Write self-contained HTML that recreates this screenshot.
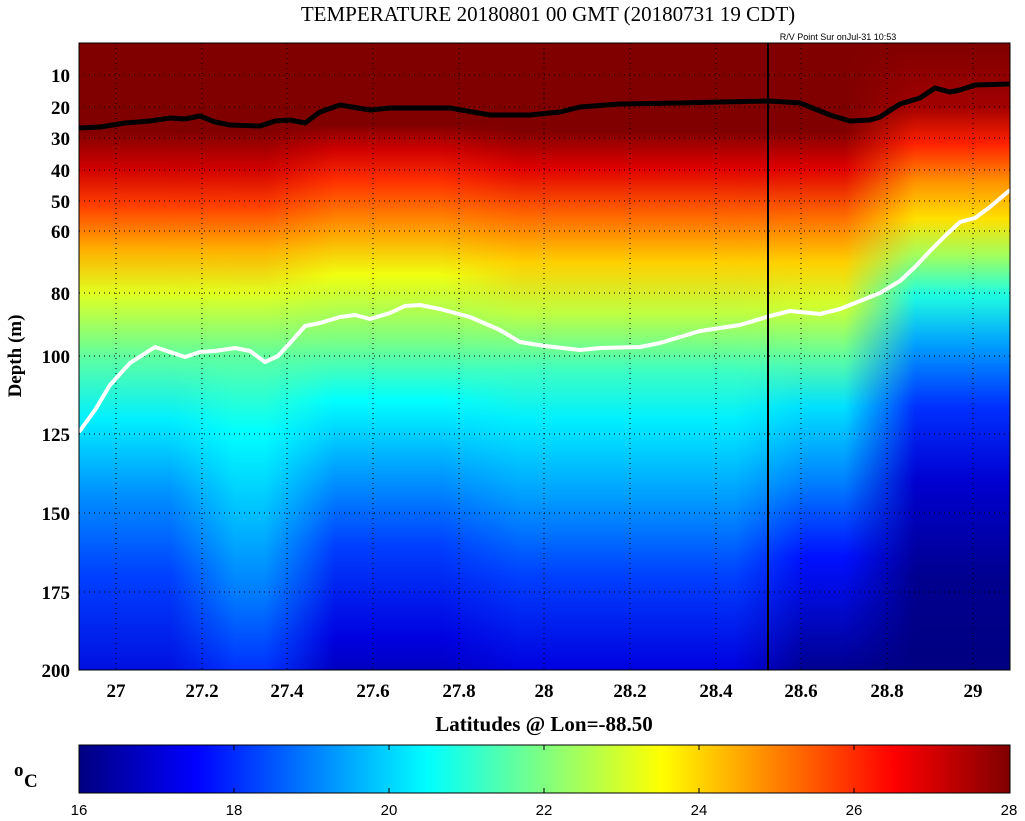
<!DOCTYPE html>
<html><head><meta charset="utf-8"><style>
body{margin:0;background:#fff;}
svg{display:block;}
.t{font-family:"Liberation Serif",serif;font-weight:bold;font-size:19px;fill:#000;}
</style></head><body>
<svg width="1025" height="821" viewBox="0 0 1025 821" xmlns="http://www.w3.org/2000/svg">
<defs>
<clipPath id="pc"><rect x="79" y="43" width="931" height="627"/></clipPath>
<linearGradient id="mB" gradientUnits="userSpaceOnUse" x1="170" y1="0" x2="235" y2="0"><stop offset="0" stop-color="#fff" stop-opacity="0"/><stop offset="1" stop-color="#fff" stop-opacity="1"/></linearGradient>
<linearGradient id="mC" gradientUnits="userSpaceOnUse" x1="265" y1="0" x2="335" y2="0"><stop offset="0" stop-color="#fff" stop-opacity="0"/><stop offset="1" stop-color="#fff" stop-opacity="1"/></linearGradient>
<linearGradient id="mD" gradientUnits="userSpaceOnUse" x1="440" y1="0" x2="520" y2="0"><stop offset="0" stop-color="#fff" stop-opacity="0"/><stop offset="1" stop-color="#fff" stop-opacity="1"/></linearGradient>
<linearGradient id="mE" gradientUnits="userSpaceOnUse" x1="735" y1="0" x2="805" y2="0"><stop offset="0" stop-color="#fff" stop-opacity="0"/><stop offset="1" stop-color="#fff" stop-opacity="1"/></linearGradient>
<linearGradient id="mF" gradientUnits="userSpaceOnUse" x1="845" y1="0" x2="915" y2="0"><stop offset="0" stop-color="#fff" stop-opacity="0"/><stop offset="1" stop-color="#fff" stop-opacity="1"/></linearGradient>
<mask id="kB" maskUnits="userSpaceOnUse" x="0" y="0" width="1025" height="821"><rect x="0" y="0" width="1025" height="821" fill="url(#mB)"/></mask>
<mask id="kC" maskUnits="userSpaceOnUse" x="0" y="0" width="1025" height="821"><rect x="0" y="0" width="1025" height="821" fill="url(#mC)"/></mask>
<mask id="kD" maskUnits="userSpaceOnUse" x="0" y="0" width="1025" height="821"><rect x="0" y="0" width="1025" height="821" fill="url(#mD)"/></mask>
<mask id="kE" maskUnits="userSpaceOnUse" x="0" y="0" width="1025" height="821"><rect x="0" y="0" width="1025" height="821" fill="url(#mE)"/></mask>
<mask id="kF" maskUnits="userSpaceOnUse" x="0" y="0" width="1025" height="821"><rect x="0" y="0" width="1025" height="821" fill="url(#mF)"/></mask>
<linearGradient id="gA" gradientUnits="userSpaceOnUse" x1="0" y1="43" x2="0" y2="670">
<stop offset="0" stop-color="#800000"/><stop offset="0.14" stop-color="#800000"/><stop offset="0.2" stop-color="#d00000"/><stop offset="0.26" stop-color="#ff4000"/><stop offset="0.33" stop-color="#ffb000"/><stop offset="0.4" stop-color="#e0ff20"/><stop offset="0.5" stop-color="#60ffa0"/><stop offset="0.6" stop-color="#00f0ff"/><stop offset="0.72" stop-color="#0090ff"/><stop offset="0.85" stop-color="#0040ff"/><stop offset="1" stop-color="#0010e0"/></linearGradient>
<linearGradient id="gB" gradientUnits="userSpaceOnUse" x1="0" y1="43" x2="0" y2="670">
<stop offset="0" stop-color="#800000"/><stop offset="0.14" stop-color="#800000"/><stop offset="0.2" stop-color="#d00000"/><stop offset="0.26" stop-color="#ff4000"/><stop offset="0.33" stop-color="#ffb000"/><stop offset="0.4" stop-color="#e0ff20"/><stop offset="0.5" stop-color="#60ffa0"/><stop offset="0.62" stop-color="#00ffff"/><stop offset="0.75" stop-color="#00c0ff"/><stop offset="0.9" stop-color="#0070ff"/><stop offset="1" stop-color="#0030ff"/></linearGradient>
<linearGradient id="gC" gradientUnits="userSpaceOnUse" x1="0" y1="43" x2="0" y2="670">
<stop offset="0" stop-color="#800000"/><stop offset="0.13" stop-color="#800000"/><stop offset="0.17" stop-color="#d00000"/><stop offset="0.22" stop-color="#ff3000"/><stop offset="0.3" stop-color="#ffa000"/><stop offset="0.37" stop-color="#f0ff10"/><stop offset="0.47" stop-color="#80ff80"/><stop offset="0.57" stop-color="#00ffff"/><stop offset="0.68" stop-color="#00a0ff"/><stop offset="0.8" stop-color="#0040ff"/><stop offset="0.95" stop-color="#0000e0"/><stop offset="1" stop-color="#0000c0"/></linearGradient>
<linearGradient id="gD" gradientUnits="userSpaceOnUse" x1="0" y1="43" x2="0" y2="670">
<stop offset="0" stop-color="#800000"/><stop offset="0.14" stop-color="#800000"/><stop offset="0.2" stop-color="#e00000"/><stop offset="0.27" stop-color="#ff6000"/><stop offset="0.35" stop-color="#ffd000"/><stop offset="0.43" stop-color="#c0ff40"/><stop offset="0.52" stop-color="#40ffc0"/><stop offset="0.6" stop-color="#00f0ff"/><stop offset="0.72" stop-color="#00a0ff"/><stop offset="0.85" stop-color="#0040ff"/><stop offset="1" stop-color="#0000e0"/></linearGradient>
<linearGradient id="gE" gradientUnits="userSpaceOnUse" x1="0" y1="43" x2="0" y2="670">
<stop offset="0" stop-color="#800000"/><stop offset="0.14" stop-color="#800000"/><stop offset="0.2" stop-color="#e00000"/><stop offset="0.28" stop-color="#ff7000"/><stop offset="0.35" stop-color="#ffd000"/><stop offset="0.42" stop-color="#d0ff30"/><stop offset="0.5" stop-color="#60ffa0"/><stop offset="0.58" stop-color="#00e0ff"/><stop offset="0.7" stop-color="#0080ff"/><stop offset="0.82" stop-color="#0010ff"/><stop offset="1" stop-color="#000090"/></linearGradient>
<linearGradient id="gF" gradientUnits="userSpaceOnUse" x1="0" y1="43" x2="0" y2="670">
<stop offset="0" stop-color="#800000"/><stop offset="0.1" stop-color="#a00000"/><stop offset="0.16" stop-color="#ff2000"/><stop offset="0.22" stop-color="#ff9000"/><stop offset="0.28" stop-color="#ffe000"/><stop offset="0.34" stop-color="#a0ff60"/><stop offset="0.4" stop-color="#20ffe0"/><stop offset="0.48" stop-color="#00a0ff"/><stop offset="0.58" stop-color="#0030ff"/><stop offset="0.7" stop-color="#0000d0"/><stop offset="0.85" stop-color="#000090"/><stop offset="1" stop-color="#000080"/></linearGradient>
<linearGradient id="cb" x1="0" y1="0" x2="1" y2="0">
<stop offset="0" stop-color="#000080"/><stop offset="0.125" stop-color="#0000ff"/><stop offset="0.375" stop-color="#00ffff"/><stop offset="0.5" stop-color="#80ff80"/><stop offset="0.625" stop-color="#ffff00"/><stop offset="0.875" stop-color="#ff0000"/><stop offset="1" stop-color="#800000"/></linearGradient>
</defs>
<text x="548" y="21" text-anchor="middle" font-family="Liberation Serif,serif" font-size="21">TEMPERATURE 20180801 00 GMT (20180731 19 CDT)</text>
<text x="838" y="40" text-anchor="middle" font-family="Liberation Sans,sans-serif" font-size="9">R/V Point Sur onJul-31 10:53</text>
<g clip-path="url(#pc)">
<rect x="79" y="43" width="931" height="627" fill="url(#gA)"/>
<rect x="79" y="43" width="931" height="627" fill="url(#gB)" mask="url(#kB)"/>
<rect x="79" y="43" width="931" height="627" fill="url(#gC)" mask="url(#kC)"/>
<rect x="79" y="43" width="931" height="627" fill="url(#gD)" mask="url(#kD)"/>
<rect x="79" y="43" width="931" height="627" fill="url(#gE)" mask="url(#kE)"/>
<rect x="79" y="43" width="931" height="627" fill="url(#gF)" mask="url(#kF)"/>
<g stroke="#000" stroke-width="1" stroke-dasharray="1,4">
<line x1="116" y1="43" x2="116" y2="670"/><line x1="202" y1="43" x2="202" y2="670"/><line x1="287" y1="43" x2="287" y2="670"/><line x1="373" y1="43" x2="373" y2="670"/><line x1="459" y1="43" x2="459" y2="670"/><line x1="544" y1="43" x2="544" y2="670"/><line x1="630" y1="43" x2="630" y2="670"/><line x1="716" y1="43" x2="716" y2="670"/><line x1="801" y1="43" x2="801" y2="670"/><line x1="887" y1="43" x2="887" y2="670"/><line x1="973" y1="43" x2="973" y2="670"/>
<line x1="79" y1="75" x2="1010" y2="75"/><line x1="79" y1="107" x2="1010" y2="107"/><line x1="79" y1="138" x2="1010" y2="138"/><line x1="79" y1="170" x2="1010" y2="170"/><line x1="79" y1="201" x2="1010" y2="201"/><line x1="79" y1="231" x2="1010" y2="231"/><line x1="79" y1="293" x2="1010" y2="293"/><line x1="79" y1="356" x2="1010" y2="356"/><line x1="79" y1="434" x2="1010" y2="434"/><line x1="79" y1="513" x2="1010" y2="513"/><line x1="79" y1="592" x2="1010" y2="592"/>
</g>
<polyline fill="none" stroke="#000" stroke-width="5" stroke-linejoin="round" points="79,128 100,127 125,123 150,121 170,118 185,119 200,116 215,122 230,125 260,126 275,121 290,120 305,123 320,112 340,105 370,110 390,108 420,108 450,108 490,115 530,115 560,112 580,107 620,104 680,103 720,102 770,101 800,103 830,115 850,121 870,120 880,117 900,104 920,98 935,88 950,92 960,90 975,85 1010,84"/>
<polyline fill="none" stroke="#fff" stroke-width="4" stroke-linejoin="round" points="79,432 95,410 110,385 130,363 155,347 185,357 200,352 215,351 235,348 250,351 265,362 278,356 290,343 305,326 320,323 340,317 355,315 370,319 390,313 405,306 420,305 440,309 470,317 500,330 520,342 545,346 580,350 600,348 640,347 660,343 700,331 740,325 770,316 790,311 820,314 840,309 860,301 880,293 900,281 915,267 930,251 945,236 960,222 975,218 990,207 1010,190"/>
<line x1="768" y1="43" x2="768" y2="670" stroke="#000" stroke-width="2"/>
</g>
<rect x="79" y="43" width="931" height="627" fill="none" stroke="#000" stroke-width="1"/>
<g class="t" text-anchor="end">
<text x="70" y="82">10</text><text x="70" y="114">20</text><text x="70" y="145">30</text><text x="70" y="177">40</text><text x="70" y="208">50</text><text x="70" y="238">60</text><text x="70" y="300">80</text><text x="70" y="363">100</text><text x="70" y="441">125</text><text x="70" y="520">150</text><text x="70" y="599">175</text><text x="70" y="677">200</text>
</g>
<g class="t" text-anchor="middle">
<text x="116" y="697">27</text><text x="202" y="697">27.2</text><text x="287" y="697">27.4</text><text x="373" y="697">27.6</text><text x="459" y="697">27.8</text><text x="544" y="697">28</text><text x="630" y="697">28.2</text><text x="716" y="697">28.4</text><text x="801" y="697">28.6</text><text x="887" y="697">28.8</text><text x="973" y="697">29</text>
<text x="544" y="731" font-size="21">Latitudes @ Lon=-88.50</text>
</g>
<text class="t" transform="translate(21,356) rotate(-90)" text-anchor="middle" font-size="21">Depth (m)</text>
<rect x="79" y="745" width="931" height="48" fill="url(#cb)" stroke="#000" stroke-width="1"/>
<g stroke="#000" stroke-width="1">
<line x1="234" y1="745" x2="234" y2="750"/><line x1="234" y1="788" x2="234" y2="793"/>
<line x1="389" y1="745" x2="389" y2="750"/><line x1="389" y1="788" x2="389" y2="793"/>
<line x1="544" y1="745" x2="544" y2="750"/><line x1="544" y1="788" x2="544" y2="793"/>
<line x1="699" y1="745" x2="699" y2="750"/><line x1="699" y1="788" x2="699" y2="793"/>
<line x1="854" y1="745" x2="854" y2="750"/><line x1="854" y1="788" x2="854" y2="793"/>
</g>
<g font-family="Liberation Sans,sans-serif" font-size="15" text-anchor="middle">
<text x="79" y="815">16</text><text x="234" y="815">18</text><text x="389" y="815">20</text><text x="544" y="815">22</text><text x="699" y="815">24</text><text x="854" y="815">26</text><text x="1009" y="815">28</text>
</g>
<text class="t" x="24" y="787" font-size="22">C</text><text class="t" x="14" y="776" font-size="13">o</text>
</svg>
</body></html>
